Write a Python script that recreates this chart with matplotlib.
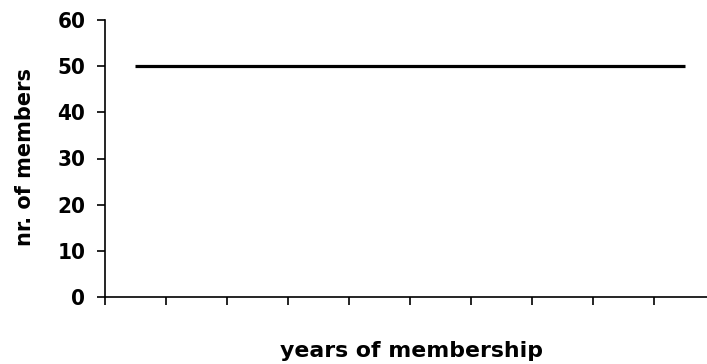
import matplotlib
matplotlib.use("Agg")
import matplotlib.pyplot as plt

# data
years = ["1", "2", "3", "4", "5", "6", "7", "8", "9", "10"]
members = [50, 50, 50, 50, 50, 50, 50, 50, 50, 50]
y_ticks = [0, 10, 20, 30, 40, 50, 60]

W, H = 707, 364
fig = plt.figure(figsize=(W / 100, H / 100), dpi=100)
ax = fig.add_axes([104.5 / W, (H - 297) / H, 611 / W, 277 / H])

x = list(range(len(years)))
ax.plot(x, members, color="black", linewidth=2.3, solid_capstyle="butt")

ax.set_xlim(-0.5, len(years) - 0.5)
ax.set_ylim(0, 60)
ax.set_yticks(y_ticks)
ax.set_yticklabels([str(v) for v in y_ticks])
ax.set_xticks([i - 0.5 for i in range(len(years) + 1)])
ax.set_xticklabels([])

for s in ["top", "right"]:
    ax.spines[s].set_visible(False)
for s in ["left", "bottom"]:
    ax.spines[s].set_linewidth(1.2)
    ax.spines[s].set_color("black")

ax.tick_params(axis="both", direction="out", length=5.8, width=1.2, color="black")
ax.tick_params(axis="y", pad=8)
for lab in ax.get_yticklabels():
    lab.set_fontfamily("DejaVu Sans")
    lab.set_fontstretch("condensed")
    lab.set_fontweight("bold")
    lab.set_fontsize(16)

fig.text(25 / W, 1 - 157 / H, "nr. of members", rotation=90, ha="center", va="center",
         fontsize=15, fontweight="bold", family="DejaVu Sans")
fig.text(411 / W, 1 - 357 / H, "years of membership", ha="center", va="baseline",
         fontsize=15.8, fontweight="bold", family="DejaVu Sans")

fig.savefig("out.png", dpi=100)
